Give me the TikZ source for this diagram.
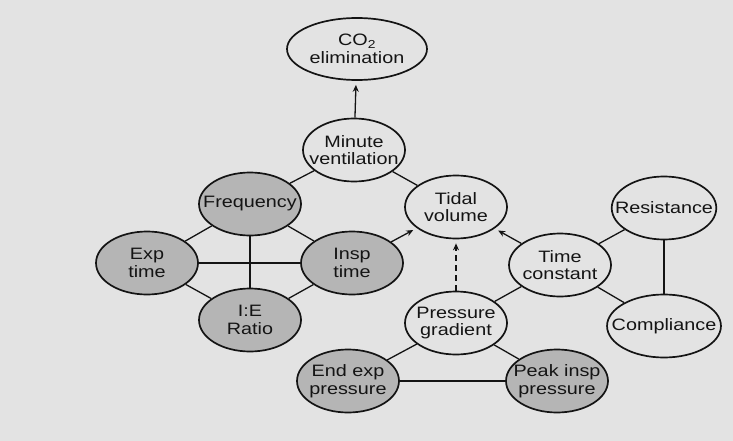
\documentclass[tikz,border=0pt]{standalone}
\usepackage{fontspec}
\setmainfont{Liberation Sans}[FakeStretch=1.2]
\usetikzlibrary{shapes.geometric,arrows.meta}
\definecolor{bgpaper}{HTML}{E3E3E3}
\definecolor{shade}{HTML}{B5B5B5}
\definecolor{ink}{HTML}{141414}
\tikzset{
  bubble/.style={ellipse,draw=ink,line width=1.7pt,minimum width=102pt,minimum height=63pt,
    inner xsep=-12pt,inner ysep=0pt,align=center,text=ink,font=\fontsize{16.5}{17.5}\selectfont},
  shaded/.style={bubble,fill=shade},
  link/.style={draw=ink,line width=1.3pt},
  cause/.style={link,-{Stealth[length=7pt,width=6pt]},shorten >=4pt},
}
\begin{document}
\begin{tikzpicture}[x=1pt,y=-1pt]
\fill[bgpaper] (0,0) rectangle (733,441);
\useasboundingbox (0,0) rectangle (733,441);
\node[bubble,minimum width=140pt,minimum height=62pt] (co2) at (357,49) {CO\textsubscript{2}\\elimination};
\node[bubble] (mv) at (354,150) {Minute\\ventilation};
\node[bubble] (tv) at (456,207) {Tidal\\volume};
\node[shaded] (fr) at (250,204) {Frequency};
\node[shaded] (et) at (147,263) {Exp\\time};
\node[shaded] (it) at (352,263) {Insp\\time};
\node[shaded] (ie) at (250,320) {I:E\\Ratio};
\node[bubble] (pg) at (456,323) {Pressure\\gradient};
\node[shaded] (ee) at (348,381) {End exp\\pressure};
\node[shaded] (pi) at (557,381) {Peak insp\\pressure};
\node[bubble] (tc) at (560,265) {Time\\constant};
\node[bubble,minimum width=104pt] (rs) at (664,208) {Resistance};
\node[bubble,minimum width=104pt] (cp) at (664,326) {Compliance};
% connectors
\draw[cause] (mv) -- (co2);
\draw[link] (mv) -- (fr);
\draw[link] (mv) -- (tv);
\draw[link] (fr) -- (it);
\draw[link] (fr) -- (et);
\draw[link] (fr) -- (ie);
\draw[link] (et) -- (it);
\draw[link] (et) -- (ie);
\draw[link] (ie) -- (it);
\draw[cause] (it) -- (tv);
\draw[cause,dash pattern=on 6pt off 4pt] (pg) -- (tv);
\draw[cause] (tc) -- (tv);
\draw[link] (tc) -- (pg);
\draw[link] (tc) -- (rs);
\draw[link] (tc) -- (cp);
\draw[link] (rs) -- (cp);
\draw[link] (pg) -- (ee);
\draw[link] (pg) -- (pi);
\draw[link] (ee) -- (pi);
\end{tikzpicture}
\end{document}
